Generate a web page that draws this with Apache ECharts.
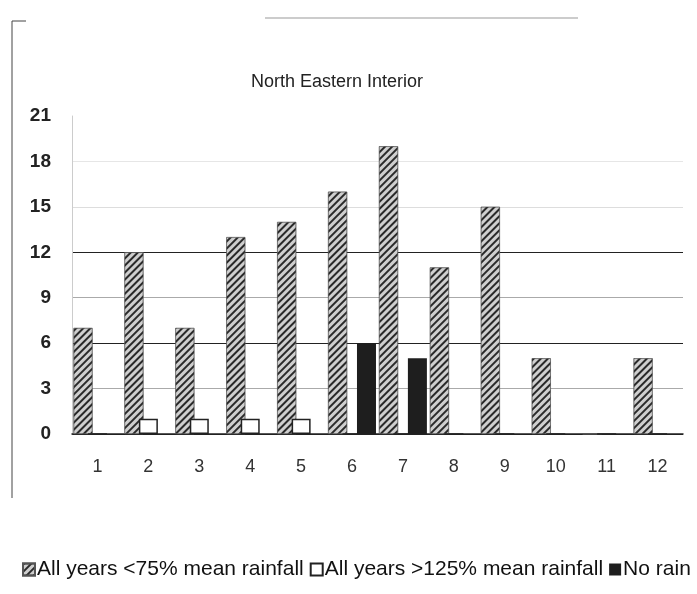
<!DOCTYPE html>
<html>
<head>
<meta charset="utf-8">
<script src="https://cdn.jsdelivr.net/npm/echarts@6/dist/echarts.min.js"></script>
<style>html,body{margin:0;padding:0;background:#fff;}#c{width:697px;height:594px;}</style>
</head>
<body>
<div id="c"></div>
<script>
var months = ['1','2','3','4','5','6','7','8','9','10','11','12'];
var below75 = [7, 12, 7, 13, 14, 16, 19, 11, 15, 5, 0, 5];
var above125 = [0, 1, 1, 1, 1, 0, 0, 0, 0, 0, 0, 0];
var noRain = [0, 0, 0, 0, 0, 6, 5, 0, 0, 0, 0, 0];
var yTicks = [0, 3, 6, 9, 12, 15, 18, 21];

var chart = echarts.init(document.getElementById('c'), null, {renderer: 'canvas'});
var hatch = {
  symbol: 'rect', symbolSize: 1, color: '#2a2a2a',
  dashArrayX: [1, 0], dashArrayY: [2, 3], rotation: -Math.PI / 4
};
chart.setOption({
  animation: false,
  backgroundColor: '#fff',
  title: {
    text: 'North Eastern Interior', left: 246, top: 68,
    textStyle: {fontFamily: 'Liberation Sans, Arial', fontSize: 18, fontWeight: 'normal', color: '#222'}
  },
  legend: {
    top: 559, left: 22, width: 675, padding: 0, itemWidth: 12, itemHeight: 12, itemGap: 6, icon: 'rect',
    textStyle: {fontFamily: 'Liberation Sans, Arial', fontSize: 21, color: '#111', padding: [0, 0, 0, -3]},
    data: ['All years <75% mean rainfall', 'All years >125% mean rainfall', 'No rain']
  },
  grid: {left: 72, right: 14, top: 116, bottom: 160},
  xAxis: {
    type: 'category', data: months,
    axisLine: {lineStyle: {color: '#222', width: 1.5}},
    axisTick: {show: false},
    axisLabel: {margin: 24, fontFamily: 'Liberation Sans, Arial', fontSize: 18, color: '#333'}
  },
  yAxis: {
    type: 'value', min: 0, max: 21, interval: 3,
    axisLine: {show: true, lineStyle: {color: '#ccc'}},
    axisTick: {show: false},
    axisLabel: {margin: 21, fontFamily: 'Liberation Sans, Arial', fontSize: 19, fontWeight: 'bold', color: '#222'},
    splitLine: {lineStyle: {color: ['#222', '#aaa', '#222', '#aaa', '#222', '#ddd', '#e6e6e6', '#fff'], width: 1.2}}
  },
  series: [
    {
      name: 'All years <75% mean rainfall', type: 'bar', data: below75,
      barWidth: 19, barGap: '-24%',
      itemStyle: {color: '#cfcfcf', decal: hatch, borderColor: '#555', borderWidth: 0.5}
    },
    {
      name: 'All years >125% mean rainfall', type: 'bar', data: above125,
      barWidth: 19, barGap: '-24%',
      itemStyle: {color: '#fff', borderColor: '#222', borderWidth: 1.5}
    },
    {
      name: 'No rain', type: 'bar', data: noRain,
      barWidth: 19, barGap: '-24%',
      itemStyle: {color: '#1e1e1e'}
    }
  ],
  graphic: [
    {type: 'line', shape: {x1: 12, y1: 21, x2: 12, y2: 498}, style: {stroke: '#444', lineWidth: 1}},
    {type: 'line', shape: {x1: 12, y1: 21, x2: 26, y2: 21}, style: {stroke: '#444', lineWidth: 1}},
    {type: 'line', shape: {x1: 265, y1: 18, x2: 578, y2: 18}, style: {stroke: '#999', lineWidth: 1}}
  ]
});
</script>
</body>
</html>
